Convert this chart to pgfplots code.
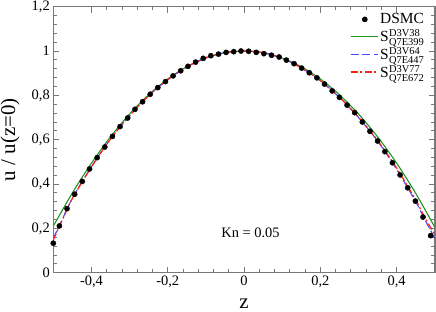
\documentclass[border=0pt]{standalone}
\usepackage{pgfplots}
\pgfplotsset{compat=1.18}
\usepackage{fontspec}
\setmainfont{Liberation Serif}
\definecolor{axgray}{RGB}{120,120,120}
\definecolor{mygreen}{RGB}{30,150,30}
\definecolor{myblue}{RGB}{70,70,255}
\definecolor{myred}{RGB}{255,30,30}
\newcommand{\SE}[2]{S\kern0.3pt\rlap{\raisebox{5.5bp}{\fontsize{10.5}{11}\selectfont #1}}\raisebox{-3.5bp}{\fontsize{10.5}{11}\selectfont #2}}
\begin{document}
\begin{tikzpicture}[font=\fontsize{14.5}{17}\selectfont]
\begin{axis}[
  scale only axis,
  width=381.5bp, height=266bp,
  xmin=-0.5, xmax=0.5, ymin=0, ymax=1.2,
  xtick={-0.4,-0.2,0,0.2,0.4},
  ytick={0,0.2,0.4,0.6,0.8,1,1.2},
  minor x tick num=4, minor y tick num=4,
  tick align=inside,
  major tick length=6bp, minor tick length=3.5bp,
  axis line style={axgray, line width=1.4pt},
  every tick/.style={axgray, line width=0.9pt},
  /pgf/number format/use comma,
  /pgf/number format/assume math mode=true,
  xticklabel style={font=\fontsize{14.5}{17}\selectfont},
  yticklabel style={font=\fontsize{14.5}{17}\selectfont},
  xlabel={z}, ylabel={u / u(z=0)},
  label style={font=\fontsize{21}{24}\selectfont},
  xlabel style={at={(axis description cs:0.5,-0.115)}, anchor=center, inner sep=0pt},
  ylabel style={at={(axis description cs:-0.113,0.5)}, anchor=center},
  legend style={draw=none, fill=none, at={(rel axis cs:0.985,0.99)}, anchor=north east,
    row sep=0pt},
  legend cell align=left,
]
\addplot[only marks, mark=*, mark size=2.6bp, black,
  legend image code/.code={\draw[black,fill=black] (0.5cm,0cm) circle (2.6bp);}] coordinates {
(-0.500,0.133) (-0.484,0.211) (-0.464,0.289) (-0.444,0.354) (-0.424,0.412)
(-0.405,0.468) (-0.385,0.519) (-0.365,0.567) (-0.345,0.615) (-0.325,0.659)
(-0.305,0.698) (-0.286,0.737) (-0.266,0.771) (-0.246,0.805) (-0.226,0.835)
(-0.206,0.862) (-0.186,0.888) (-0.166,0.911) (-0.147,0.931) (-0.127,0.950)
(-0.107,0.967) (-0.087,0.979) (-0.067,0.986) (-0.047,0.994) (-0.027,0.997)
(-0.008,1.000) (0.012,0.999) (0.032,0.994) (0.052,0.988) (0.072,0.981)
(0.092,0.973) (0.111,0.959) (0.131,0.943) (0.151,0.923) (0.171,0.902)
(0.191,0.879) (0.211,0.851) (0.231,0.820) (0.250,0.791) (0.270,0.756)
(0.290,0.722) (0.310,0.680) (0.330,0.638) (0.350,0.594) (0.369,0.546)
(0.389,0.496) (0.409,0.441) (0.429,0.383) (0.449,0.323) (0.469,0.251)
(0.489,0.167)};
\addlegendentry{\fontsize{15.5}{17}\selectfont DSMC}
\addplot[mygreen, line width=1.1pt, smooth,
  legend image code/.code={\draw[mygreen, line width=1.1pt] (0cm,0cm) -- (0.95cm,0cm);}] coordinates {
(-0.5,0.210) (-0.45,0.360) (-0.4,0.494) (-0.35,0.613) (-0.3,0.716) (-0.25,0.803)
(-0.2,0.874) (-0.15,0.929) (-0.1,0.968) (-0.05,0.992) (0,1.000) (0.05,0.992)
(0.1,0.968) (0.15,0.929) (0.2,0.874) (0.25,0.803) (0.3,0.716) (0.35,0.613)
(0.4,0.494) (0.45,0.358) (0.5,0.205)};
\addlegendentry{\fontsize{15.5}{17}\selectfont \SE{D3V38}{Q7E399}}
\addplot[myblue, line width=1.1pt, dash pattern=on 8bp off 3.5bp, smooth,
  legend image code/.code={\draw[myblue, line width=1.1pt, dash pattern=on 8bp off 3.5bp] (0cm,0cm) -- (0.95cm,0cm);}] coordinates {
(-0.5,0.155) (-0.475,0.246) (-0.45,0.336) (-0.4,0.478) (-0.35,0.603) (-0.3,0.708)
(-0.25,0.798) (-0.2,0.871) (-0.15,0.928) (-0.1,0.970) (-0.05,0.993) (0,1.000)
(0.05,0.993) (0.1,0.967) (0.15,0.924) (0.2,0.866) (0.25,0.791) (0.3,0.700)
(0.35,0.594) (0.4,0.466) (0.45,0.320) (0.475,0.236) (0.5,0.155)};
\addlegendentry{\fontsize{15.5}{17}\selectfont \SE{D3V64}{Q7E447}}
\addplot[myred, line width=1.2pt, dash pattern=on 7bp off 2.5bp on 2bp off 2.5bp, smooth,
  legend image code/.code={\draw[myred, line width=1.2pt, dash pattern=on 7bp off 2.5bp on 2bp off 2.5bp] (0cm,0cm) -- (0.95cm,0cm);}] coordinates {
(-0.5,0.148) (-0.475,0.243) (-0.45,0.335) (-0.4,0.477) (-0.35,0.603) (-0.3,0.708)
(-0.25,0.798) (-0.2,0.871) (-0.15,0.928) (-0.1,0.970) (-0.05,0.993) (0,1.000)
(0.05,0.993) (0.1,0.967) (0.15,0.924) (0.2,0.866) (0.25,0.792) (0.3,0.702)
(0.35,0.597) (0.4,0.472) (0.45,0.328) (0.475,0.246) (0.5,0.172)};
\addlegendentry{\fontsize{15.5}{17}\selectfont \SE{D3V77}{Q7E672}}
\node at (axis cs:0.017,0.178) {Kn = 0.05};
\end{axis}
\pgfresetboundingbox
\path[use as bounding box] ([xshift=-53.3bp,yshift=-39.3bp]current axis.south west) rectangle ([xshift=1.2bp,yshift=6.7bp]current axis.north east);
\end{tikzpicture}
\end{document}
